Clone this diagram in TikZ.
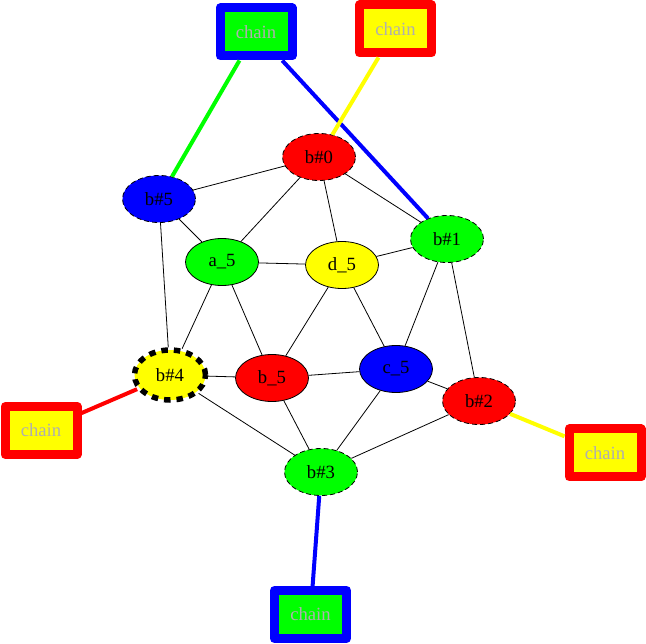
\documentclass[tikz,border=0pt]{standalone}
\usepackage{fontspec}
\setmainfont{Liberation Serif}
\usetikzlibrary{shapes.geometric}
\definecolor{cred}{RGB}{255,0,0}
\definecolor{cblue}{RGB}{0,0,255}
\definecolor{cgreen}{RGB}{0,255,0}
\definecolor{cyellow}{RGB}{255,255,0}
\definecolor{chaingray}{RGB}{175,175,175}
\tikzset{
  every node/.style={font=\fontsize{18.67}{20}\selectfont},
  ell/.style={ellipse, draw=black, line width=0.8pt, inner sep=0pt, minimum width=73pt, minimum height=47pt},
  dsh/.style={ell, dash pattern=on 5pt off 3pt},
  thick4/.style={ellipse, draw=black, line width=5.5pt, dash pattern=on 6.5pt off 6pt, inner sep=0pt, minimum width=71pt, minimum height=50pt, fill=cyellow},
  chainbox/.style={rectangle, line width=9pt, line join=round, inner sep=0pt, minimum width=72pt, minimum height=48pt, text=chaingray},
  bg/.style={chainbox, draw=cblue, fill=cgreen},
  ry/.style={chainbox, draw=cred, fill=cyellow},
  edge/.style={draw=black, line width=0.8pt},
  cedge/.style={line width=4pt},
}
\begin{document}
\begin{tikzpicture}[x=1pt,y=-1pt]
\useasboundingbox (0,0) rectangle (646,644);
% nodes
\node[dsh, fill=cred] (b0) at (319,157) {b\#0};
\node[dsh, fill=cblue] (b5) at (159,199) {b\#5};
\node[ell, fill=cgreen] (a5) at (222,262) {a\_5};
\node[ell, fill=cyellow] (d5) at (342,265) {d\_5};
\node[dsh, fill=cgreen] (b1) at (447,239) {b\#1};
\node[thick4] (b4) at (170,375) {b\#4};
\node[ell, fill=cred] (bb5) at (272,378) {b\_5};
\node[ell, fill=cblue] (c5) at (396,369) {c\_5};
\node[dsh, fill=cred] (b2) at (479,401) {b\#2};
\node[dsh, fill=cgreen] (b3) at (321,472) {b\#3};
% chain boxes
\node[bg] (ch1) at (256,32) {chain};
\node[ry] (ch2) at (395.5,29) {chain};
\node[ry] (ch3) at (41,430.5) {chain};
\node[ry] (ch4) at (605,453) {chain};
\node[bg] (ch5) at (310.5,614.5) {chain};
% black edges
\path[edge] (b0) -- (b5) (b0) -- (a5) (b0) -- (d5) (b0) -- (b1)
  (b5) -- (a5) (b5) -- (b4)
  (a5) -- (d5) (a5) -- (b4) (a5) -- (bb5)
  (d5) -- (b1) (d5) -- (bb5) (d5) -- (c5)
  (b1) -- (c5) (b1) -- (b2)
  (b4) -- (bb5) (b4) -- (b3)
  (bb5) -- (c5) (bb5) -- (b3)
  (c5) -- (b3) (c5) -- (b2)
  (b2) -- (b3);
% colored edges
\draw[cedge, cgreen] (ch1) -- (b5);
\draw[cedge, cblue] (ch1) -- (b1);
\draw[cedge, cyellow] (ch2) -- (b0);
\draw[cedge, cred] (ch3) -- (b4);
\draw[cedge, cyellow] (ch4) -- (b2);
\draw[cedge, cblue] (ch5) -- (b3);
\end{tikzpicture}
\end{document}
